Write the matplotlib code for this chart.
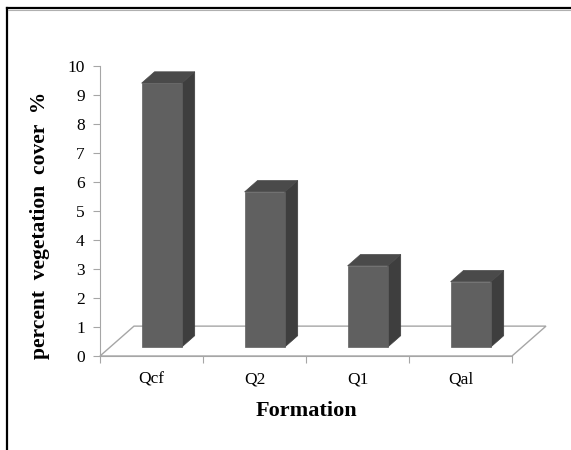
import matplotlib
matplotlib.use("Agg")
import matplotlib.pyplot as plt
from matplotlib.patches import Polygon
from matplotlib.lines import Line2D

categories = ["Qcf", "Q2", "Q1", "Qal"]
values = [9.1, 5.35, 2.8, 2.25]
yticks = list(range(0, 11))

plt.rcParams["font.family"] = ["Liberation Serif", "DejaVu Serif"]

W, H = 571, 450
fig = plt.figure(figsize=(W / 100, H / 100), dpi=100)
fig.patch.set_facecolor("white")

# outer frame (top and left visible)
fig.add_artist(Line2D([7 / W, 7 / W], [0, 1 - 8 / H], color="black", lw=1.6))
fig.add_artist(Line2D([7 / W, 1], [1 - 8 / H, 1 - 8 / H], color="black", lw=1.6))
fig.add_artist(Line2D([8 / W, 1], [1 - 10 / H, 1 - 10 / H], color="#b0b0b0", lw=0.8))

ax = fig.add_axes([100 / W, (H - 356) / H, 412 / W, 290 / H])
n = len(categories)
ax.set_xlim(0, n)
ax.set_ylim(0, 10)

DX, DY = 0.33, 1.03   # depth offset in data units
d0, d1 = 0.30, 0.68   # bar depth range
bw = 0.39

gray = "#a6a6a6"
# floor
floor = Polygon([(0, 0), (n, 0), (n + DX, DY), (DX, DY)], closed=True,
                facecolor="white", edgecolor=gray, lw=1.0, clip_on=False, zorder=1)
ax.add_patch(floor)

front_c, side_c, top_c = "#606060", "#3e3e3e", "#4a4a4a"
for i, v in enumerate(values):
    c = i + 0.5
    xl, xr = c - bw / 2, c + bw / 2
    def P(x, y, d):
        return (x + d * DX, y + d * DY)
    front = [P(xl, 0, d0), P(xr, 0, d0), P(xr, v, d0), P(xl, v, d0)]
    side = [P(xr, 0, d0), P(xr, 0, d1), P(xr, v, d1), P(xr, v, d0)]
    top = [P(xl, v, d0), P(xr, v, d0), P(xr, v, d1), P(xl, v, d1)]
    for poly, col in ((side, side_c), (top, top_c), (front, front_c)):
        ax.add_patch(Polygon(poly, closed=True, facecolor=col, edgecolor=col,
                             lw=0.5, clip_on=False, zorder=3))

for s in ("top", "right"):
    ax.spines[s].set_visible(False)
ax.spines["left"].set_color(gray)
ax.spines["bottom"].set_color(gray)
ax.patch.set_alpha(0)

ax.set_yticks(yticks)
ax.set_yticklabels([str(t) for t in yticks])
ax.tick_params(axis="y", direction="out", length=5, color=gray, labelsize=12.5, pad=6)

ax.set_xticks(range(0, n + 1))
ax.set_xticklabels([])
ax.set_xticks([i + 0.5 for i in range(n)], minor=True)
ax.set_xticklabels(categories, minor=True)
ax.tick_params(axis="x", which="major", direction="out", length=5, color=gray)
ax.tick_params(axis="x", which="minor", length=0, labelsize=12.5, pad=11)

ax.set_xlabel("Formation", fontsize=16, fontweight="bold", labelpad=10)
fig.text(40 / W, 1 - 225 / H, "percent  vegetation  cover  %", rotation=90,
         fontsize=15.5, fontweight="bold", ha="center", va="center")

fig.savefig("out.png", dpi=100)
